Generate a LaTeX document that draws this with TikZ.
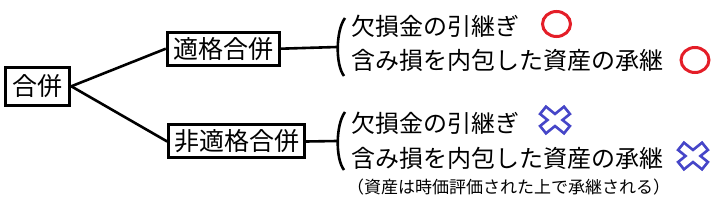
\documentclass[tikz,border=0pt]{standalone}
\usepackage{fontspec}
\usetikzlibrary{shapes.geometric}
\setmainfont{Noto Sans CJK JP}
\definecolor{okred}{RGB}{228,30,40}
\definecolor{ngblue}{RGB}{70,70,200}
\begin{document}
\begin{tikzpicture}[x=1pt,y=-1pt,
  box/.style={draw=black,line width=3pt,inner sep=0pt,font=\fontsize{25}{25}\selectfont},
  conn/.style={line width=2.6pt},
  item/.style={anchor=west,inner sep=0pt,font=\fontsize{24}{24}\selectfont},
  note/.style={anchor=west,inner sep=0pt,font=\fontsize{17}{17}\selectfont},
  okmark/.style={ellipse,draw=okred,line width=3pt,minimum width=28pt,minimum height=25pt,inner sep=0pt}
]
\useasboundingbox (0,0) rectangle (723,203);
\node[box,minimum width=64pt,minimum height=38pt] (root) at (37.8,86.3) {合併};
\node[box,minimum width=112pt,minimum height=33pt] (q) at (223.3,48.7) {適格合併};
\node[box,minimum width=136pt,minimum height=33pt] (nq) at (236.7,141.5) {非適格合併};
\draw[conn] (root.east) -- (q.west);
\draw[conn] (root.east) -- (nq.west);
% brackets
\coordinate (b1) at (337,47);
\coordinate (b2) at (337,141);
\draw[conn] (q.east) -- (b1);
\draw[conn] (nq.east) -- (b2);
\draw[line width=2.6pt] (345,18) .. controls (336,30) and (335,64) .. (344,76);
\draw[line width=2.6pt] (345,112) .. controls (336,124) and (335,158) .. (344,170);
% items
\node[item] (i1) at (351,26) {欠損金の引継ぎ};
\node[item] (i2) at (351,60) {含み損を内包した資産の承継};
\node[item] (j1) at (351,123) {欠損金の引継ぎ};
\node[item] (j2) at (351,158) {含み損を内包した資産の承継};
\node[note] (n1) at (347,187) {（資産は時価評価された上で承継される）};
% marks
\node[okmark] (m1) at (556.5,24) {};
\node[okmark] (m2) at (695,60) {};
\foreach \cx/\cy in {555/120, 693/156}{
  \draw[ngblue,line width=12pt] (\cx-13,\cy-10.5) -- (\cx+13,\cy+10.5) (\cx-13,\cy+10.5) -- (\cx+13,\cy-10.5);
  \draw[white,line width=6.5pt,shorten <=2.8pt,shorten >=2.8pt] (\cx-13,\cy-10.5) -- (\cx+13,\cy+10.5);
  \draw[white,line width=6.5pt,shorten <=2.8pt,shorten >=2.8pt] (\cx-13,\cy+10.5) -- (\cx+13,\cy-10.5);
}
\end{tikzpicture}
\end{document}
